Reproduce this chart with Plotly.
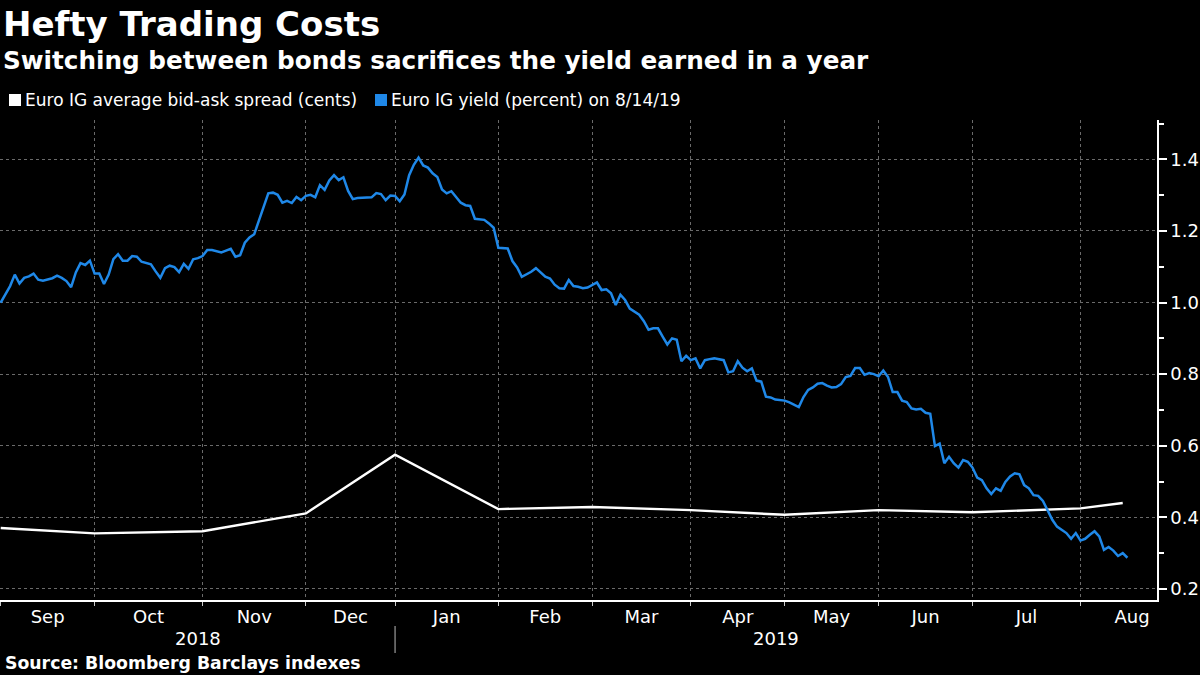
import plotly.graph_objects as go
import pandas as pd

# ---------------- data ----------------
yield_dates = [
    "2018-09-03", "2018-09-04", "2018-09-05", "2018-09-06", "2018-09-07", "2018-09-10", "2018-09-11",
    "2018-09-12", "2018-09-13", "2018-09-14", "2018-09-18", "2018-09-19", "2018-09-20", "2018-09-21",
    "2018-09-24", "2018-09-25", "2018-09-26", "2018-09-27", "2018-09-28",
    "2018-10-01", "2018-10-02", "2018-10-03", "2018-10-04", "2018-10-05", "2018-10-08", "2018-10-09",
    "2018-10-10", "2018-10-11", "2018-10-12", "2018-10-15", "2018-10-17", "2018-10-18", "2018-10-19",
    "2018-10-22", "2018-10-23", "2018-10-24", "2018-10-25", "2018-10-26", "2018-10-29", "2018-10-30",
    "2018-10-31",
    "2018-11-01", "2018-11-02", "2018-11-05", "2018-11-07", "2018-11-08", "2018-11-09", "2018-11-12",
    "2018-11-13", "2018-11-14", "2018-11-15", "2018-11-16", "2018-11-19", "2018-11-20", "2018-11-21",
    "2018-11-22", "2018-11-23", "2018-11-26", "2018-11-27", "2018-11-28", "2018-11-29", "2018-11-30",
    "2018-12-03", "2018-12-04", "2018-12-05", "2018-12-06", "2018-12-07", "2018-12-10", "2018-12-11",
    "2018-12-12", "2018-12-13", "2018-12-14", "2018-12-17", "2018-12-18", "2018-12-20", "2018-12-21",
    "2018-12-24", "2018-12-27", "2018-12-28", "2018-12-31",
    "2019-01-02", "2019-01-03", "2019-01-04", "2019-01-07", "2019-01-08", "2019-01-09", "2019-01-10",
    "2019-01-11", "2019-01-14", "2019-01-15", "2019-01-16", "2019-01-17", "2019-01-18", "2019-01-21",
    "2019-01-22", "2019-01-23", "2019-01-24", "2019-01-25", "2019-01-28", "2019-01-29", "2019-01-30",
    "2019-01-31",
    "2019-02-01", "2019-02-04", "2019-02-05", "2019-02-06", "2019-02-07", "2019-02-08", "2019-02-11",
    "2019-02-12", "2019-02-13", "2019-02-14", "2019-02-15", "2019-02-18", "2019-02-19", "2019-02-20",
    "2019-02-21", "2019-02-22", "2019-02-25", "2019-02-26", "2019-02-27", "2019-02-28",
    "2019-03-01", "2019-03-04", "2019-03-05", "2019-03-06", "2019-03-07", "2019-03-08", "2019-03-11",
    "2019-03-12", "2019-03-13", "2019-03-15", "2019-03-18", "2019-03-19", "2019-03-20", "2019-03-21",
    "2019-03-22", "2019-03-25", "2019-03-26", "2019-03-27", "2019-03-28", "2019-03-29",
    "2019-04-01", "2019-04-02", "2019-04-03", "2019-04-04", "2019-04-05", "2019-04-08", "2019-04-10",
    "2019-04-11", "2019-04-12", "2019-04-15", "2019-04-16", "2019-04-17", "2019-04-18", "2019-04-23",
    "2019-04-24", "2019-04-25", "2019-04-26", "2019-04-29",
    "2019-05-02", "2019-05-03", "2019-05-07", "2019-05-08", "2019-05-09", "2019-05-10", "2019-05-13",
    "2019-05-14", "2019-05-15", "2019-05-16", "2019-05-17", "2019-05-20", "2019-05-21", "2019-05-22",
    "2019-05-23", "2019-05-24", "2019-05-28", "2019-05-29", "2019-05-31",
    "2019-06-03", "2019-06-04", "2019-06-05", "2019-06-06", "2019-06-07", "2019-06-10", "2019-06-11",
    "2019-06-12", "2019-06-13", "2019-06-14", "2019-06-17", "2019-06-18", "2019-06-19", "2019-06-20",
    "2019-06-21", "2019-06-24", "2019-06-25", "2019-06-26", "2019-06-27", "2019-06-28",
    "2019-07-01", "2019-07-02", "2019-07-03", "2019-07-04", "2019-07-05", "2019-07-08", "2019-07-09",
    "2019-07-10", "2019-07-11", "2019-07-12", "2019-07-15", "2019-07-16", "2019-07-17", "2019-07-18",
    "2019-07-19", "2019-07-22", "2019-07-23", "2019-07-24", "2019-07-25", "2019-07-26", "2019-07-29",
    "2019-07-30", "2019-07-31",
    "2019-08-01", "2019-08-02", "2019-08-05", "2019-08-06", "2019-08-07", "2019-08-08", "2019-08-09",
    "2019-08-12", "2019-08-13", "2019-08-14", "2019-08-15",
]
yield_values = [
    1.000, 1.023, 1.046, 1.078, 1.053, 1.069, 1.073, 1.081, 1.064, 1.061, 1.068, 1.075, 1.069, 1.060,
    1.043, 1.084, 1.110, 1.105, 1.117,
    1.081, 1.081, 1.052, 1.078, 1.121, 1.135, 1.117, 1.117, 1.130, 1.128, 1.114, 1.107, 1.087, 1.069,
    1.096, 1.103, 1.099, 1.085, 1.108, 1.094, 1.121, 1.124,
    1.130, 1.147, 1.147, 1.140, 1.145, 1.150, 1.128, 1.132, 1.167, 1.182, 1.191, 1.229, 1.266, 1.305,
    1.307, 1.301, 1.279, 1.284, 1.278, 1.295, 1.286,
    1.298, 1.301, 1.294, 1.328, 1.315, 1.341, 1.356, 1.342, 1.350, 1.312, 1.289, 1.292, 1.292, 1.294,
    1.306, 1.303, 1.286, 1.299,
    1.298, 1.283, 1.302, 1.356, 1.385, 1.405, 1.383, 1.377, 1.361, 1.351, 1.316, 1.305, 1.311, 1.296,
    1.279, 1.272, 1.270, 1.234, 1.232, 1.231, 1.221, 1.209,
    1.153, 1.151, 1.151, 1.116, 1.098, 1.072, 1.078, 1.086, 1.096, 1.084, 1.072, 1.067, 1.050, 1.040,
    1.039, 1.063, 1.046, 1.044, 1.040, 1.042,
    1.048, 1.056, 1.035, 1.037, 1.026, 0.993, 1.022, 1.007, 0.983, 0.966, 0.948, 0.924, 0.928, 0.928,
    0.905, 0.883, 0.900, 0.896, 0.836, 0.851,
    0.839, 0.844, 0.816, 0.839, 0.842, 0.844, 0.839, 0.805, 0.808, 0.836, 0.818, 0.808, 0.816, 0.782,
    0.779, 0.737, 0.735, 0.729,
    0.726, 0.721, 0.708, 0.736, 0.756, 0.763, 0.773, 0.775, 0.768, 0.763, 0.764, 0.772, 0.792, 0.795,
    0.817, 0.817, 0.798, 0.803, 0.800,
    0.794, 0.810, 0.792, 0.750, 0.750, 0.726, 0.722, 0.704, 0.701, 0.703, 0.692, 0.689, 0.599, 0.606,
    0.551, 0.569, 0.551, 0.539, 0.560, 0.555,
    0.539, 0.511, 0.504, 0.481, 0.465, 0.481, 0.474, 0.499, 0.514, 0.523, 0.520, 0.490, 0.481, 0.462,
    0.460, 0.446, 0.417, 0.393, 0.374, 0.366, 0.356, 0.340, 0.356,
    0.335, 0.340, 0.351, 0.361, 0.347, 0.309, 0.317, 0.307, 0.292, 0.300, 0.287,
]

spread_dates = ["2018-09-03", "2018-10-01", "2018-11-01", "2018-12-03", "2019-01-02", "2019-02-01",
                "2019-03-01", "2019-04-01", "2019-05-02", "2019-06-03", "2019-07-01", "2019-08-01",
                "2019-08-14"]
spread_values = [0.370, 0.355, 0.361, 0.411, 0.575, 0.423, 0.429, 0.420, 0.407, 0.420, 0.414, 0.425, 0.440]

# market closing days (trading calendar of the index)
holidays = ["2018-12-25", "2018-12-26", "2019-01-01", "2019-04-19", "2019-04-22",
            "2019-05-01", "2019-05-27", "2019-05-30"]

month_starts = ["2018-09-01", "2018-10-01", "2018-11-01", "2018-12-01", "2019-01-01", "2019-02-01",
                "2019-03-01", "2019-04-01", "2019-05-01", "2019-06-01", "2019-07-01", "2019-08-01",
                "2019-09-01"]
month_labels = ["Sep", "Oct", "Nov", "Dec", "Jan", "Feb", "Mar", "Apr", "May", "Jun", "Jul", "Aug"]
year_labels = ["2018", "2019"]
axis_start, axis_end = "2018-09-03", "2019-08-23"

title = "Hefty Trading Costs"
subtitle = "Switching between bonds sacrifices the yield earned in a year"
legend_names = ["Euro IG average bid-ask spread (cents)", "Euro IG yield (percent) on 8/14/19"]
source = "Source: Bloomberg Barclays indexes"

# ---------------- trading-day axis ----------------
cal = pd.bdate_range("2018-09-03", "2019-09-06", freq="C", holidays=holidays)


def tpos(d):
    return int(cal.searchsorted(pd.Timestamp(d)))


x_yield = [tpos(d) for d in yield_dates]
x_spread = [tpos(d) for d in spread_dates]
ms = [tpos(d) for d in month_starts]
mid = [(ms[i] + ms[i + 1]) / 2 for i in range(len(month_labels))]
x0 = tpos(axis_start) - 0.15
x1 = tpos(axis_end) + 0.3
jan = tpos("2019-01-01")

# ---------------- figure ----------------
W, H = 1200, 675
ML, MR, MT, MB = 0, 43, 120, 75
PW, PH = W - ML - MR, H - MT - MB
FONT = "DejaVu Sans"
WHITE = "#ffffff"
BLUE = "#1f88e8"
GRID = "#6a6a6a"


def px(xp):
    return (xp - ML) / PW


def py(yp):
    return (H - MB - yp) / PH


fig = go.Figure()
fig.add_trace(go.Scatter(x=x_spread, y=spread_values, mode="lines",
                         line=dict(color=WHITE, width=2.4), showlegend=False,
                         name=legend_names[0]))
fig.add_trace(go.Scatter(x=x_yield, y=yield_values, mode="lines",
                         line=dict(color=BLUE, width=2.5), showlegend=False,
                         name=legend_names[1]))

annotations = [
    dict(text=title, x=px(1), y=py(24), xref="paper", yref="paper", xanchor="left", yanchor="middle",
         showarrow=False, font=dict(family=FONT, size=34, color=WHITE, weight="bold")),
    dict(text=subtitle, x=px(1), y=py(60), xref="paper", yref="paper", xanchor="left", yanchor="middle",
         showarrow=False, font=dict(family=FONT, size=24.7, color=WHITE, weight="bold")),
    dict(text=legend_names[0], x=px(23), y=py(100), xref="paper", yref="paper", xanchor="left",
         yanchor="middle", showarrow=False, font=dict(family=FONT, size=17, color=WHITE)),
    dict(text=legend_names[1], x=px(389), y=py(100), xref="paper", yref="paper", xanchor="left",
         yanchor="middle", showarrow=False, font=dict(family=FONT, size=17, color=WHITE)),
    dict(text=source, x=px(3), y=py(663), xref="paper", yref="paper", xanchor="left", yanchor="middle",
         showarrow=False, font=dict(family=FONT, size=17.3, color=WHITE, weight="bold")),
    dict(text=year_labels[0], x=(x0 + jan) / 2, y=py(638), xref="x", yref="paper", xanchor="center",
         yanchor="middle", showarrow=False, font=dict(family=FONT, size=18, color=WHITE)),
    dict(text=year_labels[1], x=(jan + x1) / 2, y=py(638), xref="x", yref="paper", xanchor="center",
         yanchor="middle", showarrow=False, font=dict(family=FONT, size=18, color=WHITE)),
]

shapes = [
    dict(type="rect", xref="paper", yref="paper", x0=px(9), x1=px(21), y0=py(106), y1=py(94),
         fillcolor=WHITE, line=dict(width=0)),
    dict(type="rect", xref="paper", yref="paper", x0=px(375), x1=px(387), y0=py(106), y1=py(94),
         fillcolor=BLUE, line=dict(width=0)),
    dict(type="line", xref="x", yref="paper", x0=jan, x1=jan, y0=py(626), y1=py(653),
         line=dict(color="#bbbbbb", width=1)),
]

fig.update_layout(
    width=W, height=H,
    margin=dict(l=ML, r=MR, t=MT, b=MB, pad=0),
    paper_bgcolor="#000000", plot_bgcolor="#000000",
    font=dict(family=FONT, color=WHITE),
    annotations=annotations, shapes=shapes,
    showlegend=False,
)
fig.update_xaxes(
    range=[x0, x1], autorange=False, automargin=False,
    tickmode="array", tickvals=mid, ticktext=month_labels, ticks="",
    showgrid=False, zeroline=False,
    tickfont=dict(family=FONT, size=18, color=WHITE),
    showline=True, linecolor=WHITE, linewidth=1.5,
    minor=dict(tickmode="array", tickvals=ms, ticks="outside", ticklen=4, tickwidth=1,
               tickcolor="#cccccc", showgrid=True, gridcolor=GRID, griddash="dot", gridwidth=1),
)
fig.update_yaxes(
    side="right", range=[0.169, 1.51], autorange=False, automargin=False,
    tickmode="linear", tick0=0.2, dtick=0.2, tickformat=".1f",
    ticks="outside", ticklen=8, tickwidth=2, tickcolor=WHITE,
    showline=True, linecolor=WHITE, linewidth=1.5,
    showgrid=True, gridcolor=GRID, griddash="dot", gridwidth=1, zeroline=False,
    tickfont=dict(family=FONT, size=18, color=WHITE),
    minor=dict(tick0=0.1, dtick=0.1, ticks="outside", ticklen=5, tickwidth=1.5, tickcolor=WHITE,
               showgrid=False),
)

fig.write_html("out.html",
               config={"displayModeBar": False},
               post_script="document.body.style.margin='0px';document.body.style.padding='0px';"
                           "document.body.style.background='#000';")
